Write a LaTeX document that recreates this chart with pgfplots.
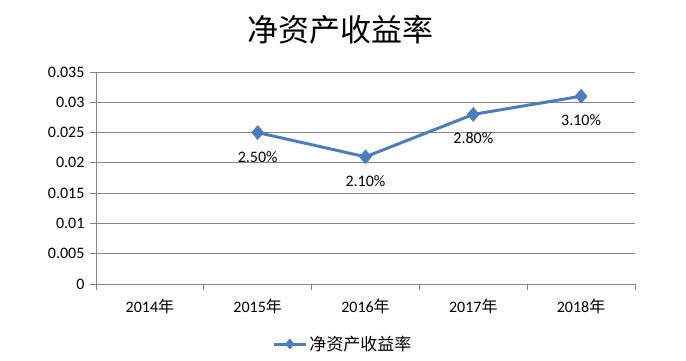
\documentclass[border=0pt]{standalone}
\usepackage{fontspec}
\setmainfont{Carlito}
\newfontfamily\cjk{Noto Sans CJK SC}
\usepackage{pgfplots}
\pgfplotsset{compat=1.18}
\definecolor{serblue}{HTML}{4A7EBB}
\definecolor{gridgray}{HTML}{868686}
\begin{document}
\begin{tikzpicture}
\useasboundingbox (-96pt,-76pt) rectangle (590pt,284pt);
\begin{axis}[
  at={(0,0)}, anchor=south west,
  scale only axis, width=539pt, height=212pt,
  xmin=-0.5, xmax=4.5, ymin=0, ymax=0.035,
  scaled y ticks=false,
  axis x line*=bottom, axis y line*=left,
  axis line style={gridgray, line width=0.8pt},
  xtick={0,1,2,3,4},
  xticklabels={2014{\cjk 年},2015{\cjk 年},2016{\cjk 年},2017{\cjk 年},2018{\cjk 年}},
  major x tick style={draw=none},
  minor xtick={-0.5,0.5,1.5,2.5,3.5,4.5},
  minor tick length=6pt,
  minor x tick style={gridgray, line width=0.8pt},
  tick align=outside,
  ytick={0,0.005,0.01,0.015,0.02,0.025,0.03,0.035},
  yticklabels={0,0.005,0.01,0.015,0.02,0.025,0.03,0.035},
  major tick length=6pt,
  y tick style={gridgray, line width=0.8pt},
  ymajorgrids, major grid style={gridgray, line width=0.8pt},
  tick label style={font=\fontsize{16pt}{18pt}\selectfont, text=black},
  xticklabel style={yshift=-5pt},
  yticklabel style={xshift=-2pt},
  clip=false,
  legend style={at={(0.458,-0.283)}, anchor=center, draw=none, fill=none,
    font=\cjk\fontsize{17pt}{19pt}\selectfont, legend cell align=left},
  legend image code/.code={
    \draw[#1, line width=3pt] (0pt,0pt) -- (32pt,0pt);
    \path[#1] plot[mark=diamond*, mark size=5pt] coordinates {(16pt,0pt)};
  },
]
\addplot[color=serblue, line width=3pt, mark=diamond*, mark size=7pt,
  mark options={fill=serblue, draw=serblue, line width=0.5pt, xscale=1.15},
  nodes near coords, point meta=explicit symbolic,
  every node near coord/.append style={anchor=north, yshift=-15pt, text=black,
    font=\fontsize{16pt}{18pt}\selectfont}]
  coordinates {(1,0.025) [2.50\%] (2,0.021) [2.10\%] (3,0.028) [2.80\%] (4,0.031) [3.10\%]};
\addlegendentry{净资产收益率}
\end{axis}
\node[font=\cjk\fontsize{31pt}{34pt}\selectfont] at (244pt,254pt) {净资产收益率};
\end{tikzpicture}
\end{document}
